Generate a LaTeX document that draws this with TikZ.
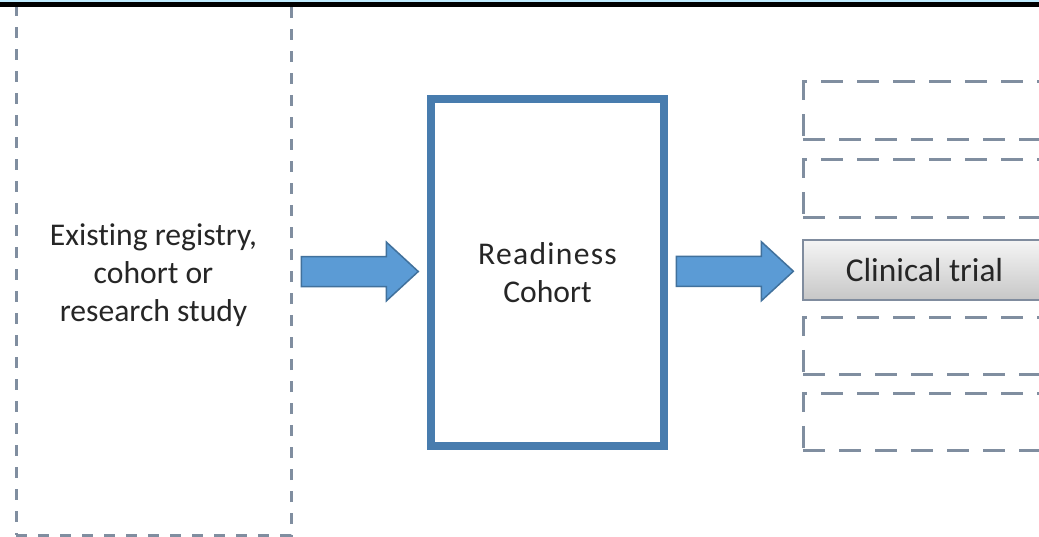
\documentclass[tikz,border=0pt]{standalone}
\usepackage{fontspec}
\setmainfont{Carlito}[Ligatures=NoCommon]
\usepackage{tikz}

\definecolor{arrowblue}{RGB}{91,155,213}
\definecolor{arrowline}{RGB}{65,113,156}
\definecolor{cohortblue}{RGB}{72,124,174}
\definecolor{dashgray}{RGB}{128,142,160}
\definecolor{trialline}{RGB}{128,140,158}

\tikzset{
  every node/.style={font=\fontsize{18}{21.8}\selectfont, text=black!85, align=center},
  dashbox/.style={rectangle, draw=dashgray, line width=0.06cm, dash pattern=on 0.44cm off 0.28cm,
    minimum width=4.86cm, minimum height=1.15cm},
  pics/blockarrow/.style={code={
    \draw[fill=arrowblue, draw=arrowline, line width=0.03cm, line join=miter]
      (-1.17,-0.30) -- ++(1.70,0) -- ++(0,-0.29) -- ++(0.64,0.59)
      -- ++(-0.64,0.59) -- ++(0,-0.29) -- ++(-1.70,0) -- cycle;
  }}
}

\begin{document}
\begin{tikzpicture}
    \useasboundingbox (0,0) rectangle (20.78,-10.74);
    \clip (0,0) rectangle (20.78,-10.74);
    \fill[white] (0,0) rectangle (20.78,-10.74);

    % Sorgente
    \node (exist) at (3.07,-5.41) [rectangle, draw=dashgray, line width=0.06cm,
        dash pattern=on 0.22cm off 0.22cm, minimum width=5.5cm, minimum height=10.58cm]
        {\rule{0pt}{0.62cm}Existing registry,\\cohort or\\research study};

    % Coorte
    \node (ready) at (10.95,-5.45) [rectangle, draw=cohortblue, line width=0.16cm,
        minimum width=4.66cm, minimum height=6.94cm]
        {\addfontfeature{LetterSpace=4}Readiness\\Cohort};

    % Studi
    \node (box1) at (18.49,-2.21) [dashbox] {};
    \node (box2) at (18.49,-3.77) [dashbox] {};
    \node (trial) at (18.49,-5.40) [rectangle, draw=trialline, line width=0.05cm,
        top color=white!96!black, bottom color=black!22, minimum width=4.86cm,
        minimum height=1.2cm, font=\fontsize{19}{22}\selectfont] {Clinical trial};
    \node (box3) at (18.49,-6.92) [dashbox] {};
    \node (box4) at (18.49,-8.44) [dashbox] {};

    % Frecce
    \path (exist.east) -- (ready.west) pic[pos=0.5] {blockarrow};
    \path (ready.east) -- (trial.west) pic[pos=0.5] {blockarrow};

    % Bordo superiore
    \fill[blue!30!cyan!25!white] (0,0) rectangle (20.78,-0.05);
    \fill[black] (0,-0.05) rectangle (20.78,-0.146);
\end{tikzpicture}
\end{document}
